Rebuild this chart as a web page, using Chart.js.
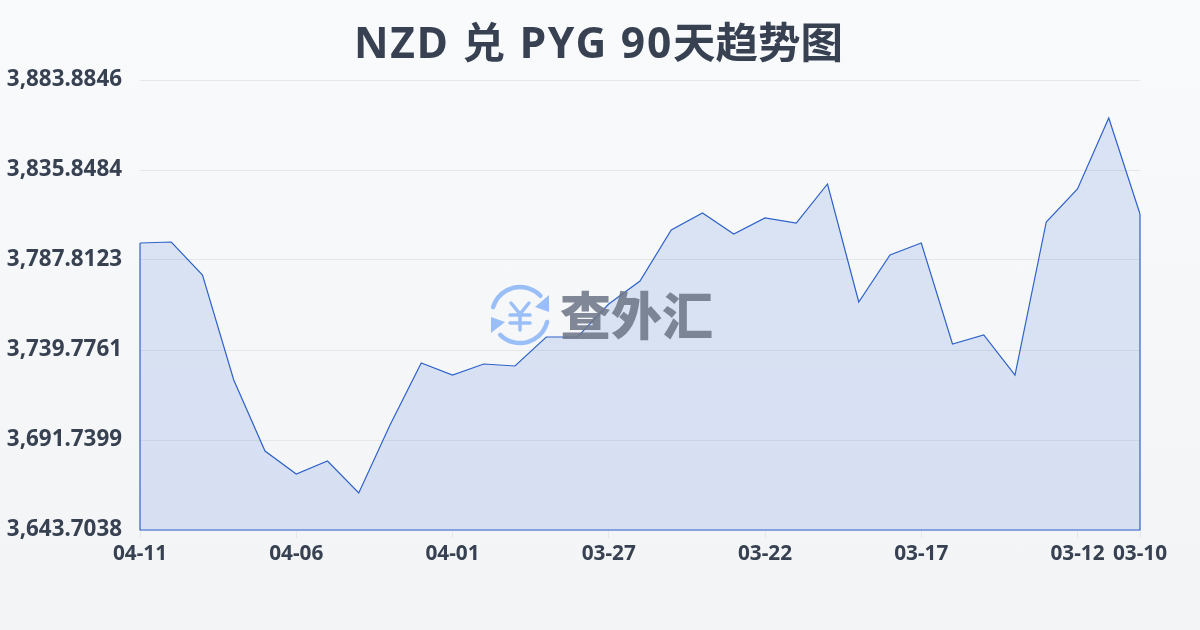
<!DOCTYPE html>
<html>
<head>
<meta charset="utf-8">
<title>NZD 兑 PYG 90天趋势图</title>
<script src="https://cdn.jsdelivr.net/npm/chart.js@4/dist/chart.umd.min.js"></script>
<style>
html, body { margin: 0; padding: 0; }
body { width: 1200px; height: 630px; overflow: hidden; background: linear-gradient(180deg, #f8fafc 0%, #f3f4f6 100%); }
canvas { display: block; }
</style>
</head>
<body>
<canvas id="rateChart" width="1200" height="630"></canvas>
<script>
const titleHead = 'NZD 兑 PYG 90';
const titleTail = '天趋势图';
const dates = ['04-11', '04-10', '04-09', '04-08', '04-07', '04-06', '04-05', '04-04', '04-03', '04-02', '04-01',
    '03-31', '03-30', '03-29', '03-28', '03-27', '03-26', '03-25', '03-24', '03-23', '03-22',
    '03-21', '03-20', '03-19', '03-18', '03-17', '03-16', '03-15', '03-14', '03-13', '03-12', '03-11', '03-10'];
const rates = [3796.89, 3797.42, 3779.81, 3723.77, 3685.87, 3673.59, 3680.53, 3663.45, 3699.75, 3732.84, 3726.43,
    3732.30, 3731.24, 3746.72, 3746.72, 3764.33, 3776.60, 3803.83, 3812.90, 3801.69, 3810.23,
    3807.56, 3828.38, 3765.40, 3790.48, 3796.89, 3742.98, 3747.78, 3726.43, 3808.10, 3825.71, 3863.60, 3812.37];
const xTickLabels = ['04-11', '04-06', '04-01', '03-27', '03-22', '03-17', '03-12', '03-10'];
const yTicks = [3643.7038, 3691.7399, 3739.7761, 3787.8123, 3835.8484, 3883.8846];

const textColor = '#374151';
const lineColor = '#2f62c9';

// title is centred on the whole canvas, latin part runs a bit wider than the CJK part
const pageTitle = {
    id: 'pageTitle',
    afterDraw(chart) {
        const ctx = chart.ctx;
        ctx.save();
        ctx.fillStyle = textColor;
        ctx.font = '700 42.5px "Noto Sans", "Noto Sans CJK SC"';
        ctx.textAlign = 'left';
        ctx.textBaseline = 'middle';
        ctx.letterSpacing = '1.8px';
        const headWidth = ctx.measureText(titleHead).width;
        ctx.fillText(titleHead, 354, 46);
        ctx.letterSpacing = '0px';
        ctx.fillText(titleTail, 354 + headWidth, 46);
        ctx.restore();
    }
};

// watermark: semi transparent, goes over the area fill
const watermark = {
    id: 'watermark',
    afterDatasetsDraw(chart) {
        const ctx = chart.ctx;
        const cx = 520, cy = 315;
        ctx.save();
        ctx.globalAlpha = 0.88;
        ctx.strokeStyle = '#8db6f6';
        ctx.fillStyle = '#8db6f6';
        ctx.lineWidth = 4.5;
        ctx.lineCap = 'round';
        ctx.lineJoin = 'round';
        ctx.beginPath();
        ctx.arc(cx, cy, 28, Math.PI * 1.09, Math.PI * 1.76);
        ctx.stroke();
        ctx.beginPath();
        ctx.arc(cx, cy, 28, Math.PI * 0.08, Math.PI * 0.75);
        ctx.stroke();
        ctx.beginPath();
        ctx.moveTo(549, 295); ctx.lineTo(549, 312); ctx.lineTo(535, 307);
        ctx.closePath();
        ctx.fill();
        ctx.beginPath();
        ctx.moveTo(491, 317); ctx.lineTo(491, 333); ctx.lineTo(505, 322);
        ctx.closePath();
        ctx.fill();
        // yen sign
        ctx.lineWidth = 3.5;
        ctx.beginPath();
        ctx.moveTo(511, 303); ctx.lineTo(520, 314); ctx.lineTo(529, 303);
        ctx.moveTo(510, 315); ctx.lineTo(530, 315);
        ctx.moveTo(510, 323); ctx.lineTo(530, 323);
        ctx.moveTo(520, 314); ctx.lineTo(520, 330);
        ctx.stroke();
        ctx.fillStyle = '#6f7889';
        ctx.font = '900 51px "Noto Sans CJK SC"';
        ctx.textAlign = 'left';
        ctx.textBaseline = 'middle';
        ctx.fillText('查外汇', 560, 316);
        ctx.restore();
    }
};

// outline closes the area down to the axis
const areaOutline = {
    id: 'areaOutline',
    afterDatasetsDraw(chart) {
        const ctx = chart.ctx;
        const x = chart.scales.x, y = chart.scales.y;
        const last = rates.length - 1;
        const base = y.getPixelForValue(yTicks[0]);
        ctx.save();
        ctx.strokeStyle = lineColor;
        ctx.lineWidth = 1.2;
        ctx.beginPath();
        ctx.moveTo(x.getPixelForValue(0), y.getPixelForValue(rates[0]));
        ctx.lineTo(x.getPixelForValue(0), base);
        ctx.lineTo(x.getPixelForValue(last), base);
        ctx.lineTo(x.getPixelForValue(last), y.getPixelForValue(rates[last]));
        ctx.stroke();
        ctx.restore();
    }
};

new Chart(document.getElementById('rateChart').getContext('2d'), {
    type: 'line',
    data: {
        labels: dates,
        datasets: [{
            data: rates,
            borderColor: lineColor,
            borderWidth: 1.2,
            backgroundColor: 'rgba(40, 100, 215, 0.14)',
            fill: 'start',
            tension: 0,
            pointRadius: 0
        }]
    },
    options: {
        responsive: false,
        animation: false,
        devicePixelRatio: 1,
        layout: { padding: { left: 0, right: 60, top: 80, bottom: 0 } },
        plugins: {
            legend: { display: false },
            tooltip: { enabled: false }
        },
        scales: {
            x: {
                offset: false,
                border: { display: false },
                grid: { drawOnChartArea: false, drawTicks: true, tickLength: 8, color: '#e5e7eb' },
                afterBuildTicks(scale) {
                    scale.ticks = scale.ticks.filter(t => xTickLabels.includes(dates[t.value]));
                },
                afterFit(scale) { scale.height = 100; },
                ticks: {
                    autoSkip: false,
                    maxRotation: 0,
                    padding: 4,
                    color: textColor,
                    font: { family: '"Noto Sans"', size: 20.8, weight: '700' }
                }
            },
            y: {
                min: yTicks[0],
                max: yTicks[5],
                border: { display: false },
                grid: { color: '#e5e7eb', lineWidth: 1, drawTicks: false },
                afterBuildTicks(scale) {
                    scale.ticks = yTicks.map(v => ({ value: v }));
                },
                afterFit(scale) { scale.width = 140; },
                ticks: {
                    padding: 18,
                    color: textColor,
                    font: { family: '"Noto Sans"', size: 22.4, weight: '700' },
                    callback: v => v.toLocaleString('en-US', { minimumFractionDigits: 4, maximumFractionDigits: 4 })
                }
            }
        }
    },
    plugins: [watermark, areaOutline, pageTitle]
});
</script>
</body>
</html>
